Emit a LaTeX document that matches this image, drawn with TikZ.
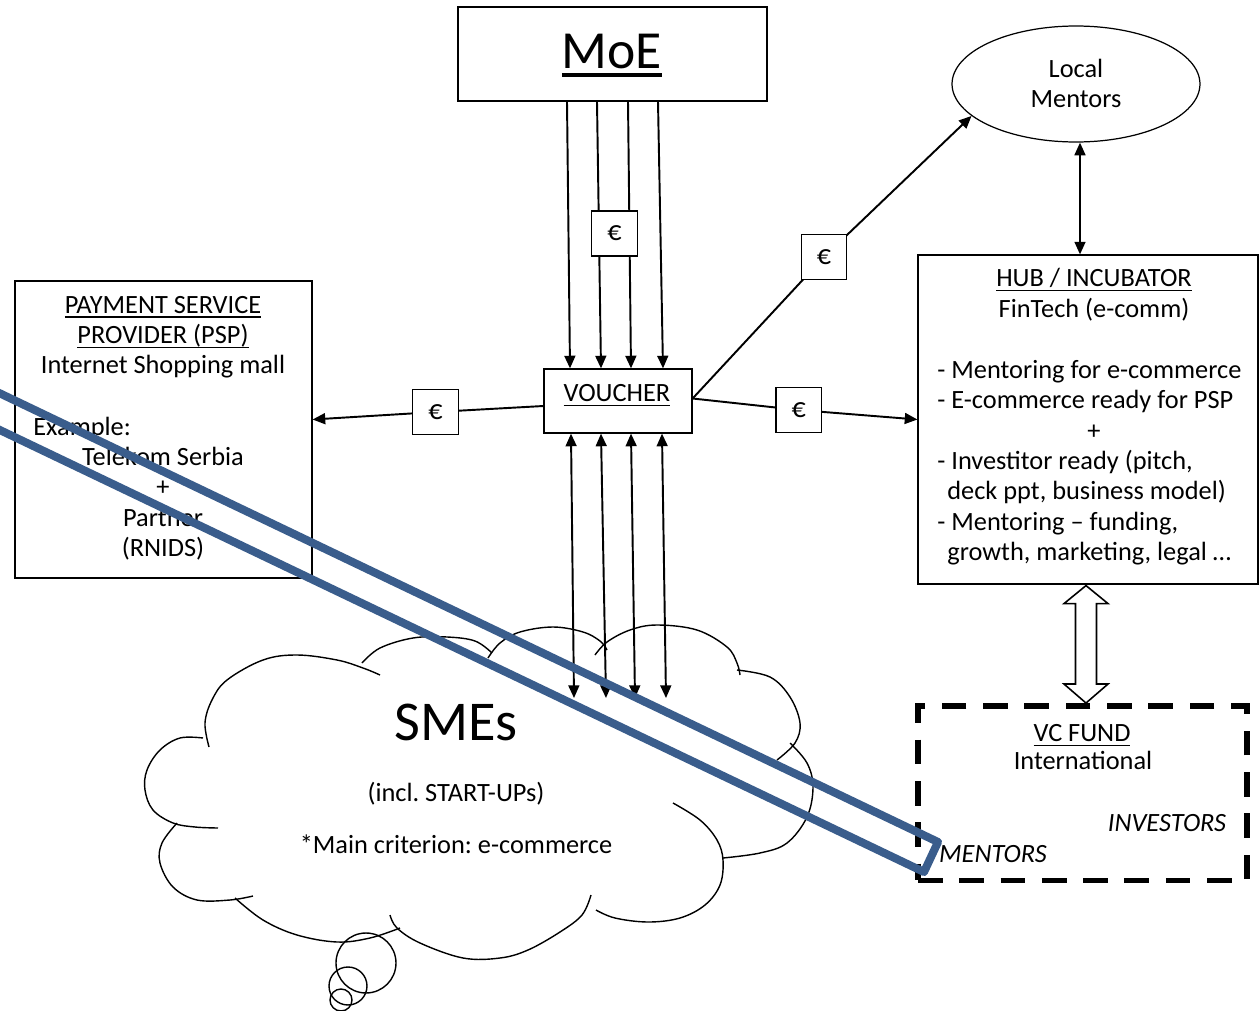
\documentclass[tikz,border=0pt]{standalone}
\usepackage{fontspec}
\setmainfont{Carlito}
\usetikzlibrary{arrows.meta,calc,shapes.geometric}
\definecolor{bandblue}{RGB}{58,93,140}
\newcommand{\myul}[3]{{\setbox0\hbox{#1}\rlap{\rule[-#3]{\wd0}{#2}}\box0}}
\newcommand{\ulb}[1]{\myul{#1}{0.7pt}{2.6pt}}
\newcommand{\basefont}{\fontsize{15pt}{17.29pt}\selectfont}
\pgfdeclarelayer{bg}
\pgfsetlayers{bg,main}
\begin{document}
\frenchspacing
\begin{tikzpicture}[x=0.02cm,y=-0.02cm,
  box/.style={draw, line width=0.7pt, fill=white, inner sep=0pt},
  txt/.style={inner sep=0pt, font=\basefont},
  eurobox/.style={draw, line width=0.7pt, fill=white, minimum width=0.91cm, minimum height=0.9cm, inner sep=0pt, font=\fontsize{16pt}{18pt}\selectfont},
  conn/.style={line width=1.1pt},
  arr/.style={conn, -{Triangle[length=7.2pt,width=6.2pt]}},
  darr/.style={conn, {Triangle[length=7.2pt,width=6.2pt]}-{Triangle[length=7.2pt,width=6.2pt]}},
  cloudline/.style={line width=0.8pt},
  band/.style={draw=bandblue, line width=4.6pt, line join=round}
]
\useasboundingbox (0,0) rectangle (1259,1011);

% ---------- boxes ----------
\node[box, minimum width=6.18cm, minimum height=1.88cm] (moe) at (612.5,54) {};
\node[txt, anchor=base, font=\fontsize{30.5pt}{36pt}\selectfont] (moetext) at (612,68.3) {\myul{MoE}{2.3pt}{5.1pt}};

\node[draw, ellipse, line width=0.7pt, fill=white, minimum width=4.96cm, minimum height=2.32cm, inner sep=0pt] (lm) at (1076,84) {};
\node[txt, anchor=base] (lmtext) at (1076,77.5) {\begin{tabular}[t]{@{}c@{}}Local\\ Mentors\end{tabular}};

\node[box, minimum width=6.8cm, minimum height=6.58cm] (hub) at (1088,419.5) {};
\node[txt, anchor=base] (hubtitle) at (1094,286.7) {\begin{tabular}[t]{@{}c@{}}\ulb{HUB / INCUBATOR}\\ FinTech (e-comm)\end{tabular}};
\node[txt, anchor=base west] (hublist) at (937,378.2) {\begin{tabular}[t]{@{}l@{}}- Mentoring for e-commerce\\ - E-commerce ready for PSP\\ \\ - Investitor ready (pitch,\\ \hspace*{0.2cm}deck ppt, business model)\\ - Mentoring – funding,\\ \hspace*{0.2cm}growth, marketing, legal …\end{tabular}};
\node[txt, anchor=base] (hubplus) at (1094,439.2) {+};

\node[box, minimum width=5.94cm, minimum height=5.94cm] (psp) at (163.5,429.5) {};
\node[txt, anchor=base] (psptop) at (163,313) {\begin{tabular}[t]{@{}c@{}}\ulb{PAYMENT SERVICE}\\ \ulb{PROVIDER (PSP)}\\ Internet Shopping mall\end{tabular}};
\node[txt, anchor=base west] (pspex) at (33,435) {Example:};
\node[txt, anchor=base] (psprest) at (163,465.5) {\begin{tabular}[t]{@{}c@{}}Telekom Serbia\\ +\\ Partner\\ (RNIDS)\end{tabular}};

\node[box, minimum width=2.96cm, minimum height=1.28cm] (voucher) at (618,401) {};
\node[txt, anchor=base] (vtext) at (617,401.7) {\ulb{VOUCHER}};

\node[eurobox] (e1) at (435.5,412) {€};
\node[eurobox] (e2) at (824,257) {€};
\node[eurobox] (e3) at (798.7,410) {€};
\node[eurobox] (e4) at (614.5,233.5) {€};

\node[draw, line width=3.4pt, dash pattern=on 14pt off 9.5pt, minimum width=6.58cm, minimum height=3.5cm, inner sep=0pt] (vc) at (1082.5,793) {};
\node[txt, anchor=base] (vctitle) at (1082,741.7) {\ulb{VC FUND}};
\node[txt, anchor=base] (vcint) at (1083,769.3) {International};
\node[txt, anchor=base] (vcinv) at (1167,831.7) {\textit{INVESTORS}};
\node[txt, anchor=base] (vcment) at (993,862.7) {\textit{MENTORS}};

% ---------- cloud texts ----------
\node[txt, anchor=base, font=\fontsize{32pt}{38pt}\selectfont] (smes) at (456,740) {SMEs};
\node[txt, anchor=base] (incl) at (456,801) {(incl. START-UPs)};
\node[txt, anchor=base] (crit) at (456,853.3) {*Main criterion: e-commerce};

% ---------- end points in the cloud ----------
\coordinate (s1) at (574,698);
\coordinate (s2) at (606,698);
\coordinate (s3) at (635,698);
\coordinate (s4) at (666,698);

\begin{pgfonlayer}{bg}
  % cloud
  \draw[cloudline] plot[smooth, tension=0.6] coordinates {(209,747) (205,723) (212,700) (227,680) (263,660) (297,655) (337,660) (363,668) (380,675)};
  \draw[cloudline] plot[smooth, tension=0.6] coordinates {(362,663) (380,648) (413,638) (447,637) (475,641) (492,653)};
  \draw[cloudline] plot[smooth, tension=0.6] coordinates {(488,658) (500,643) (520,632) (553,627) (583,632) (600,641) (607,650)};
  \draw[cloudline] plot[smooth, tension=0.6] coordinates {(595,655) (607,642) (630,630) (657,625) (697,630) (727,647) (737,663) (740,675)};
  \draw[cloudline] plot[smooth, tension=0.6] coordinates {(737,670) (770,677) (790,697) (800,723) (795,743) (777,760)};
  \draw[cloudline] plot[smooth, tension=0.6] coordinates {(790,743) (807,763) (813,787) (807,817) (787,843) (760,853) (723,858)};
  \draw[cloudline] plot[smooth, tension=0.6] coordinates {(673,803) (700,820) (717,840) (723,860) (720,885) (705,905) (680,918) (648,922) (615,918) (596,910)};
  \draw[cloudline] plot[smooth, tension=0.6] coordinates {(390,915) (397,928) (420,943) (463,958) (500,958) (528,950) (560,932) (582,915) (591,895)};
  \draw[cloudline] plot[smooth, tension=0.6] coordinates {(235,898) (263,920) (297,935) (337,942) (370,938) (400,928)};
  \draw[cloudline] plot[smooth, tension=0.6] coordinates {(177,823) (162,843) (160,863) (173,887) (197,900) (230,900) (253,896)};
  \draw[cloudline] plot[smooth, tension=0.6] coordinates {(203,738) (180,738) (160,750) (147,770) (145,790) (153,810) (173,823) (195,827) (218,828)};
  \draw[cloudline] (366,963) circle[radius=0.6cm];
  \draw[cloudline] (348,986) circle[radius=0.38cm];
  \draw[cloudline] (341,1000) circle[radius=0.22cm];

  % MoE -> voucher
  \draw[arr] ($(moe.south)+(-45.5,0)$) -- ($(voucher.north)+(-48,0)$);
  \draw[arr] ($(moe.south)+(-15.5,0)$) -- ($(voucher.north)+(-17,0)$);
  \draw[arr] ($(moe.south)+(15.5,0)$) -- ($(voucher.north)+(13,0)$);
  \draw[arr] ($(moe.south)+(45.5,0)$) -- ($(voucher.north)+(45,0)$);

  % voucher <-> SMEs
  \draw[darr] ($(voucher.south)+(-47,0)$) -- (s1);
  \draw[darr] ($(voucher.south)+(-17,0)$) -- (s2);
  \draw[darr] ($(voucher.south)+(13,0)$) -- (s3);
  \draw[darr] ($(voucher.south)+(44,0)$) -- (s4);

  % voucher -> PSP, Hub, Local Mentors
  \draw[arr] ($(voucher.west)+(0,5)$) -- (e1.center) -- ($(psp.east)+(0,-10)$);
  \draw[arr] ($(voucher.east)+(0,-2.5)$) -- (e3.center) -- (hub.west);
  \draw[arr] ($(voucher.east)+(0,-2.5)$) -- (e2.center) -- (lm.197);

  % Local Mentors <-> Hub
  \draw[darr] ($(lm.south)+(4,0)$) -- ($(lm.south |- hub.north)+(4,0)$);

  % Hub <=> VC fund (hollow double arrow)
  \coordinate (dt) at ($(hub.south)+(-2,1)$);
  \coordinate (db) at ($(vc.north)+(3.5,0.5)$);
  \draw[line width=0.9pt, fill=white] (dt) -- ($(dt)+(22,18)$) -- ($(dt)+(10.5,18)$) -- ($(db)+(10.5,-19)$) -- ($(db)+(22,-19)$) -- (db) -- ($(db)+(-22,-19)$) -- ($(db)+(-10.5,-19)$) -- ($(dt)+(-10.5,18)$) -- ($(dt)+(-22,18)$) -- cycle;
\end{pgfonlayer}

% ---------- blue band on top ----------
\begin{scope}
  \clip (0,0) rectangle (1259,1011);
  \draw[band] (938,842) -- (924,872) -- (-249,311) -- (-235,281) -- cycle;
\end{scope}
\end{tikzpicture}
\end{document}
